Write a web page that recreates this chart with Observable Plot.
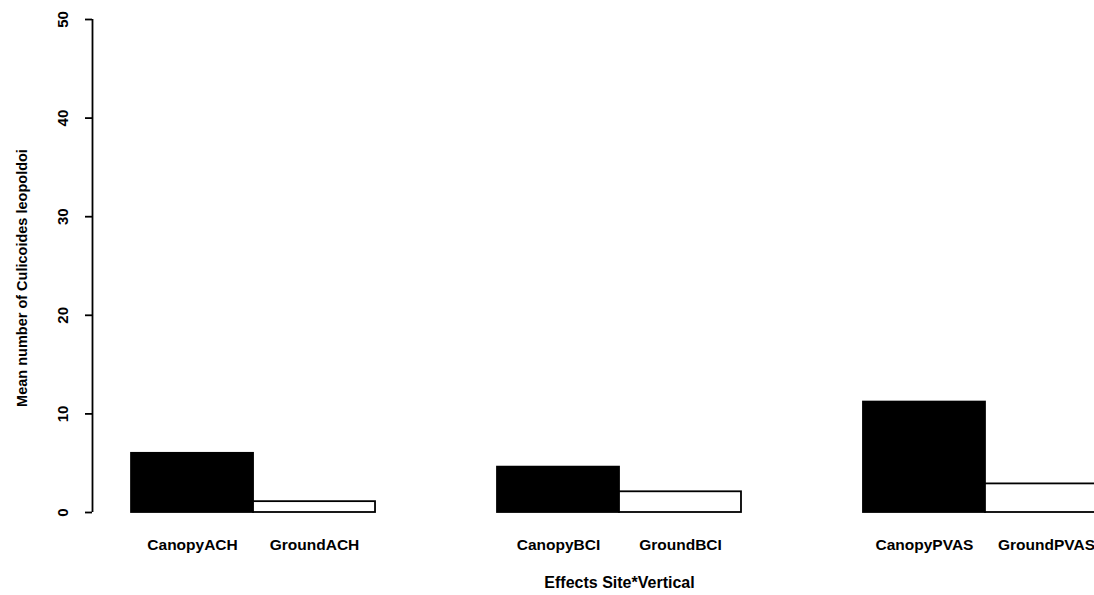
<!DOCTYPE html>
<html>
<head>
<meta charset="utf-8">
<script src="https://cdn.jsdelivr.net/npm/d3@7"></script>
<script src="https://cdn.jsdelivr.net/npm/@observablehq/plot@0.6"></script>
<style>
  html, body { margin: 0; padding: 0; background: #fff; overflow: hidden; }
  #chart svg { display: block; }
</style>
</head>
<body>
<div id="chart"></div>
<script>
// ---- data ----
const sites = ["ACH", "BCI", "PVAS"];
const verticals = ["Canopy", "Ground"];
const canopyValues = [6.0, 4.6, 11.2];
const groundValues = [1.1, 2.1, 2.9];
const yTicks = [0, 10, 20, 30, 40, 50];
const yLabel = "Mean number of Culicoides leopoldoi";
const xLabel = "Effects Site*Vertical";

// R barplot layout: beside = TRUE, space = c(0, 1)
const rows = [];
sites.forEach((s, i) => {
  verticals.forEach((v, j) => {
    const left = 1 + 3 * i + j;
    rows.push({
      site: s, vertical: v, label: v + s,
      value: (v === "Canopy" ? canopyValues : groundValues)[i],
      x1: left, x2: left + 1, xc: left + 0.5
    });
  });
});
const wl = d3.min(rows, d => d.x1), wr = d3.max(rows, d => d.x2);
const pad = 0.04 * (wr - wl);
const xDomain = [wl - pad, wr + pad];

const font = "'Liberation Sans', Arial, Helvetica, sans-serif";

const chart = Plot.plot({
  width: 1094,
  height: 595,
  marginLeft: 92,
  marginRight: 0,
  marginTop: 19,
  marginBottom: 83,
  style: { fontFamily: font, fontWeight: "bold", background: "#fff", color: "#000" },
  x: { domain: xDomain, range: [92, 1146], axis: null },
  y: { domain: [0, 50], axis: null },
  marks: [
    Plot.rectY(rows, {
      x1: "x1", x2: "x2", y1: 0, y2: "value",
      fill: d => d.vertical === "Canopy" ? "#000" : "#fff",
      stroke: "#000", strokeWidth: 1.8
    }),
    Plot.ruleX([xDomain[0]], { y1: 0, y2: 50, stroke: "#000", strokeWidth: 1.8 }),
    Plot.axisY({
      ticks: yTicks, tickSize: 7, tickRotate: -90, tickPadding: 18,
      fontSize: 15, strokeWidth: 1.8, label: null
    }),
    Plot.text([yLabel], {
      frameAnchor: "left", text: d => d, rotate: -90, dx: -70, dy: 12,
      textAnchor: "middle", fontSize: 14.5, fontWeight: "bold"
    }),
    Plot.text(rows, {
      x: "xc", text: "label", frameAnchor: "bottom", dy: 37,
      fontSize: 15.5, fontWeight: "bold"
    }),
    Plot.text([xLabel], {
      x: [d3.mean(rows, d => d.xc)], text: d => d, frameAnchor: "bottom", dy: 75,
      fontSize: 16, fontWeight: "bold", style: "letter-spacing: 0.6px"
    })
  ]
});
document.getElementById("chart").append(chart);
</script>
</body>
</html>
